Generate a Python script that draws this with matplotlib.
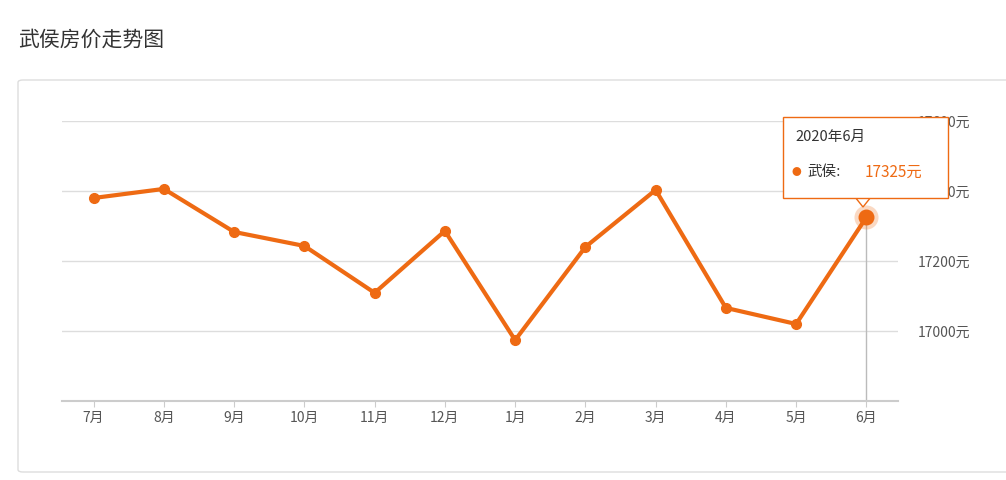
import matplotlib.pyplot as plt
from matplotlib.patches import FancyBboxPatch, Rectangle, Polygon

plt.rcParams['font.family'] = ['Noto Sans CJK SC', 'DejaVu Sans']

months = ['7月', '8月', '9月', '10月', '11月', '12月', '1月', '2月', '3月', '4月', '5月', '6月']
prices = [17380, 17406, 17283, 17243, 17109, 17286, 16974, 17240, 17403, 17066, 17020, 17325]
yticks = [17000, 17200, 17400, 17600]
ORANGE = '#ee6a13'

W, H = 1006, 480
fig = plt.figure(figsize=(W / 100, H / 100), dpi=100)
fig.text(18 / W, 1 - 40 / H, '武侯房价走势图', fontsize=15, color='#333333', va='center')
fig.patches.append(FancyBboxPatch((18 / W, 8 / H), 1.0, (472 - 80) / H,
                                  boxstyle='round,pad=0,rounding_size=0.005',
                                  transform=fig.transFigure, fill=False,
                                  edgecolor='#dddddd', linewidth=1))

ax = fig.add_axes([62 / W, 1 - 401 / H, (898 - 62) / W, (401 - 121) / H])
x = list(range(len(months)))
ax.set_xlim(-0.45, len(months) - 0.55)
ax.set_ylim(16800, 17600)
for yt in yticks:
    ax.axhline(yt, color='#dddddd', linewidth=1, zorder=0)
ax.axvline(x[-1], ymax=(prices[-1] - 16800) / 800, color='#bbbbbb', linewidth=1, zorder=1)
ax.plot(x, prices, color=ORANGE, linewidth=3, marker='o', markersize=7, zorder=3)
ax.scatter([x[-1]], [prices[-1]], s=300, color=ORANGE, alpha=0.25, zorder=2, linewidths=0)
ax.scatter([x[-1]], [prices[-1]], s=110, color=ORANGE, zorder=4)

for s in ['top', 'left', 'right']:
    ax.spines[s].set_visible(False)
ax.spines['bottom'].set_color('#cccccc')
ax.spines['bottom'].set_linewidth(1.5)
ax.set_xticks(x)
ax.set_xticklabels(months, fontsize=10, color='#555555')
ax.tick_params(axis='x', length=4, color='#cccccc')
ax.yaxis.tick_right()
ax.set_yticks(yticks)
ax.set_yticklabels([f'{v}元' for v in yticks], fontsize=10, color='#555555')
ax.tick_params(axis='y', length=0, pad=14)

# tooltip (figure pixel coords)
def fx(px): return px / W
def fy(py): return 1 - py / H
fig.patches.append(Polygon([(fx(855), fy(197)), (fx(871), fy(197)), (fx(863), fy(207))],
                           closed=True, fc='white', ec=ORANGE, lw=1,
                           transform=fig.transFigure, zorder=5))
fig.patches.append(Rectangle((fx(783), fy(198)), fx(948) - fx(783), fy(117) - fy(198),
                             fc='white', ec=ORANGE, lw=1, transform=fig.transFigure, zorder=6))
fig.text(fx(795), fy(137), '2020年6月', fontsize=10.5, color='#333333', va='center', zorder=7)
fig.text(fx(792), fy(172), '●', fontsize=7, color=ORANGE, va='center', zorder=7)
fig.text(fx(807), fy(172), '武侯:', fontsize=10.5, color='#333333', va='center', zorder=7)
fig.text(fx(865), fy(172), '17325元', fontsize=11, color=ORANGE, va='center', zorder=7)

fig.savefig('out.png', dpi=100)
